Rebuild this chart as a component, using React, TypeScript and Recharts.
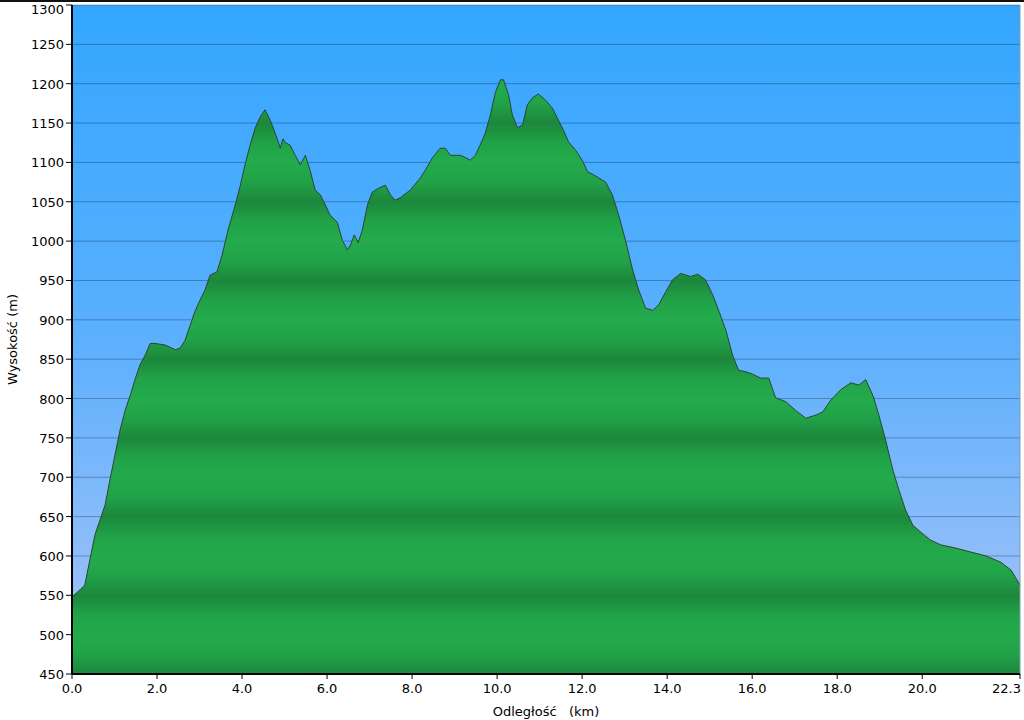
import {
  Area,
  AreaChart,
  CartesianGrid,
  ReferenceLine,
  XAxis,
  YAxis,
} from "recharts";

// distance along the route (km)
const distKm = [
  0, 0.19, 0.3, 0.42, 0.54, 0.66, 0.78, 0.89, 1.01, 1.13, 1.25, 1.37, 1.48, 1.6,
  1.72, 1.84, 1.95, 2.19, 2.43, 2.54, 2.66, 2.78, 2.9, 3.01, 3.13, 3.25, 3.41,
  3.53, 3.67, 3.84, 3.96, 4.07, 4.19, 4.31, 4.43, 4.54, 4.66, 4.78, 4.84, 4.9,
  4.96, 5.02, 5.13, 5.25, 5.37, 5.49, 5.6, 5.72, 5.84, 5.96, 6.07, 6.24, 6.36,
  6.48, 6.55, 6.64, 6.73, 6.83, 6.95, 7.06, 7.2, 7.37, 7.49, 7.6, 7.72, 7.96,
  8.19, 8.31, 8.48, 8.66, 8.78, 8.9, 9.14, 9.37, 9.49, 9.6, 9.72, 9.84, 9.96,
  10.08, 10.15, 10.27, 10.36, 10.48, 10.6, 10.71, 10.83, 10.97, 11.14, 11.3,
  11.42, 11.56, 11.68, 11.84, 12.0, 12.13, 12.31, 12.55, 12.71, 12.86, 13.02,
  13.19, 13.33, 13.49, 13.66, 13.8, 13.96, 14.13, 14.32, 14.55, 14.72, 14.9,
  15.07, 15.21, 15.38, 15.54, 15.68, 15.85, 16.01, 16.2, 16.39, 16.55, 16.79,
  17.02, 17.26, 17.5, 17.66, 17.85, 18.08, 18.32, 18.51, 18.67, 18.84, 18.98,
  19.14, 19.31, 19.45, 19.61, 19.78, 19.97, 20.2, 20.44, 20.79, 21.14, 21.5,
  21.85, 22.09, 22.3,
];

// elevation (m)
const elevM = [
  548, 557, 563, 595, 627, 646, 665, 696, 728, 760, 785, 804, 824, 843,
  855, 870, 870, 868, 862, 864, 874, 893, 912, 925, 938, 957, 961,
  982, 1014, 1046, 1071, 1097, 1122, 1144, 1158, 1167, 1154, 1137, 1128, 1118,
  1130, 1125, 1122, 1109, 1097, 1109, 1090, 1065, 1059, 1046, 1033, 1024, 1001,
  989, 995, 1008, 998, 1014, 1046, 1062, 1067, 1071, 1059, 1052, 1055, 1065,
  1080, 1090, 1106, 1118, 1118, 1109, 1109, 1103, 1109, 1122, 1137, 1160, 1189,
  1205, 1205, 1186, 1160, 1144, 1148, 1173, 1182, 1187, 1179, 1169,
  1156, 1141, 1126, 1116, 1103, 1088, 1083, 1075, 1059, 1033, 1001,
  963, 938, 915, 912, 919, 935, 951, 959, 955, 958, 951,
  932, 912, 887, 855, 836, 834, 831, 826, 826, 801, 796,
  785, 775, 779, 783, 798, 811, 820, 817, 824, 804, 779,
  747, 709, 684, 658, 639, 630, 620, 614, 610, 605, 600,
  592, 582, 563,
];

const xTicks = [0, 2, 4, 6, 8, 10, 12, 14, 16, 18, 20, 22.3];
const yTicks = [
  450, 500, 550, 600, 650, 700, 750, 800, 850, 900, 950, 1000, 1050, 1100,
  1150, 1200, 1250, 1300,
];

const data = distKm.map((d, i) => ({ dist: d, elev: elevM[i] }));

const FONT = "'DejaVu Sans', Verdana, sans-serif";
const PLOT_TOP = 5;
const BAND = (674 - 5) / 17; // px per 50 m

function XTick(props: any) {
  const { x, y, payload } = props;
  const last = payload.value === 22.3;
  return (
    <text
      x={last ? x + 1 : x}
      y={y + 12}
      textAnchor={last ? "end" : "middle"}
      fill="#000"
      fontSize={13}
      fontFamily={FONT}
    >
      {Number(payload.value).toFixed(1)}
    </text>
  );
}

function YTick(props: any) {
  const { x, y, payload } = props;
  const top = payload.value === 1300;
  return (
    <text
      x={x}
      y={top ? y + 9 : y + 5}
      textAnchor="end"
      fill="#000"
      fontSize={13}
      fontFamily={FONT}
    >
      {payload.value}
    </text>
  );
}

export default function App() {
  return (
    <div
      style={{
        position: "absolute",
        left: 0,
        top: 0,
        width: 1024,
        height: 720,
        background: "#fff",
        borderTop: "2px solid #111",
        boxSizing: "border-box",
      }}
    >
      <AreaChart
        width={1024}
        height={718}
        data={data}
        margin={{ top: 3, right: 4, left: 0, bottom: 0 }}
      >
        <defs>
          <linearGradient id="sky" x1="0" y1="0" x2="0" y2="1">
            <stop offset="0%" stopColor="#33a6ff" />
            <stop offset="50%" stopColor="#5cb0fd" />
            <stop offset="100%" stopColor="#a9c4f7" />
          </linearGradient>
          <linearGradient id="band" x1="0" y1="0" x2="0" y2="1">
            <stop offset="0%" stopColor="#23ab4c" />
            <stop offset="25%" stopColor="#21a248" />
            <stop offset="50%" stopColor="#1c873c" />
            <stop offset="75%" stopColor="#21a248" />
            <stop offset="100%" stopColor="#23ab4c" />
          </linearGradient>
          <pattern
            id="hills"
            patternUnits="userSpaceOnUse"
            x={0}
            y={PLOT_TOP - 2}
            width={1024}
            height={BAND * 2}
          >
            <rect x={0} y={0} width={1024} height={BAND * 2} fill="url(#band)" />
          </pattern>
        </defs>
        <CartesianGrid
          fill="url(#sky)"
          horizontal={false}
          vertical={false}
          stroke="none"
        />
        <XAxis
          dataKey="dist"
          type="number"
          domain={[0, 22.3]}
          ticks={xTicks}
          tick={<XTick />}
          height={46}
          axisLine={{ stroke: "#000", strokeWidth: 2 }}
          tickLine={{ stroke: "#000" }}
          tickSize={5}
          interval={0}
          label={{
            value: "Odległość\u00a0\u00a0 (km)",
            position: "insideBottom",
            offset: 4,
            fill: "#000",
            fontSize: 13,
            fontFamily: FONT,
          }}
        />
        <YAxis
          type="number"
          domain={[450, 1300]}
          ticks={yTicks}
          tick={<YTick />}
          width={72}
          axisLine={{ stroke: "#000", strokeWidth: 2 }}
          tickLine={{ stroke: "#000" }}
          tickSize={6}
          interval={0}
          allowDataOverflow
          label={{
            value: "Wysokość (m)",
            angle: -90,
            position: "insideLeft",
            offset: 12,
            fill: "#000",
            fontSize: 13,
            fontFamily: FONT,
            style: { textAnchor: "middle" },
          }}
        />
        <Area
          type="linear"
          dataKey="elev"
          baseValue={450}
          stroke="#2a4534"
          strokeWidth={1}
          fill="url(#hills)"
          fillOpacity={1}
          isAnimationActive={false}
          dot={false}
          activeDot={false}
        />
        <CartesianGrid
          vertical={false}
          stroke="rgba(0,20,40,0.3)"
          fill="none"
        />
        <ReferenceLine x={22.3} stroke="#8a9aa8" strokeWidth={1} />
      </AreaChart>
    </div>
  );
}
